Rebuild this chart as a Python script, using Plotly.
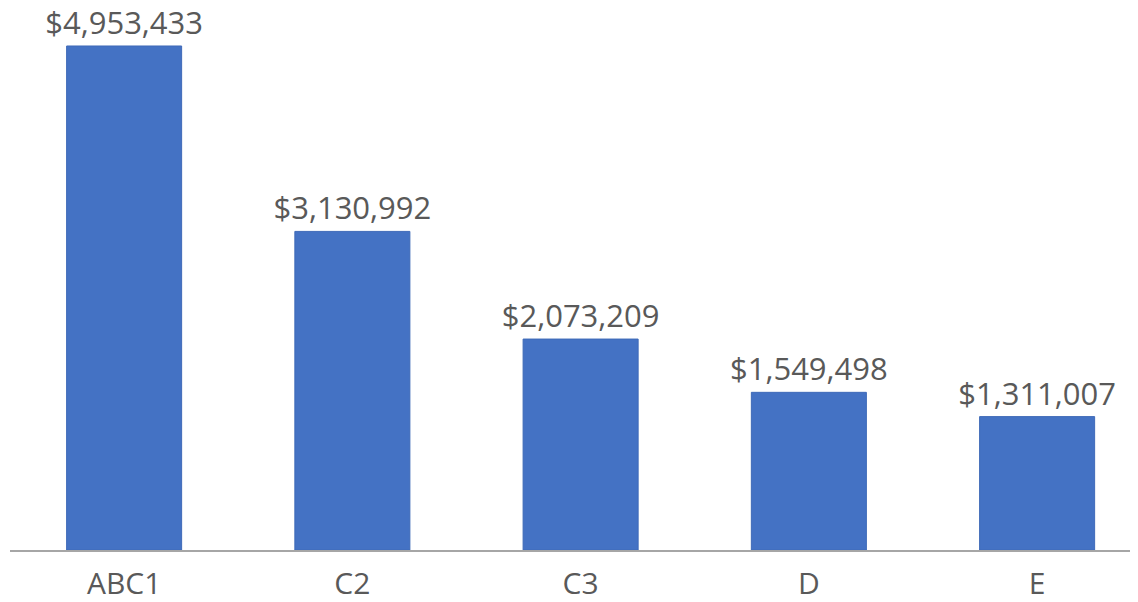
import plotly.graph_objects as go

categories = ["ABC1", "C2", "C3", "D", "E"]
values = [4953433, 3130992, 2073209, 1549498, 1311007]
labels = [f"${v:,}" for v in values]

fig = go.Figure(go.Bar(
    x=categories,
    y=values,
    text=labels,
    textposition="outside",
    cliponaxis=False,
    marker=dict(color="#4472C4", line=dict(color="#3F6AB8", width=1)),
    textfont=dict(size=31, family="Open Sans, sans-serif", color="#595959"),
))

# the page body has an 8px margin, so the figure is sized to fit the window
fig.update_layout(
    width=1130,
    height=594,
    paper_bgcolor="white",
    plot_bgcolor="white",
    margin=dict(l=2, r=0, t=0, b=52, autoexpand=False),
    bargap=0.496,
    showlegend=False,
    uniformtext=dict(minsize=31, mode="show"),
    xaxis=dict(
        range=[-0.5, 4.442],
        automargin=False,
        showline=True,
        linecolor="#A6A6A6",
        linewidth=2,
        ticks="",
        ticklabelstandoff=6,
        tickfont=dict(size=30, family="Open Sans, sans-serif", color="#595959"),
    ),
    yaxis=dict(
        range=[0, 5326800],
        automargin=False,
        visible=False,
        showgrid=False,
    ),
)

fig.write_html("out.html")
